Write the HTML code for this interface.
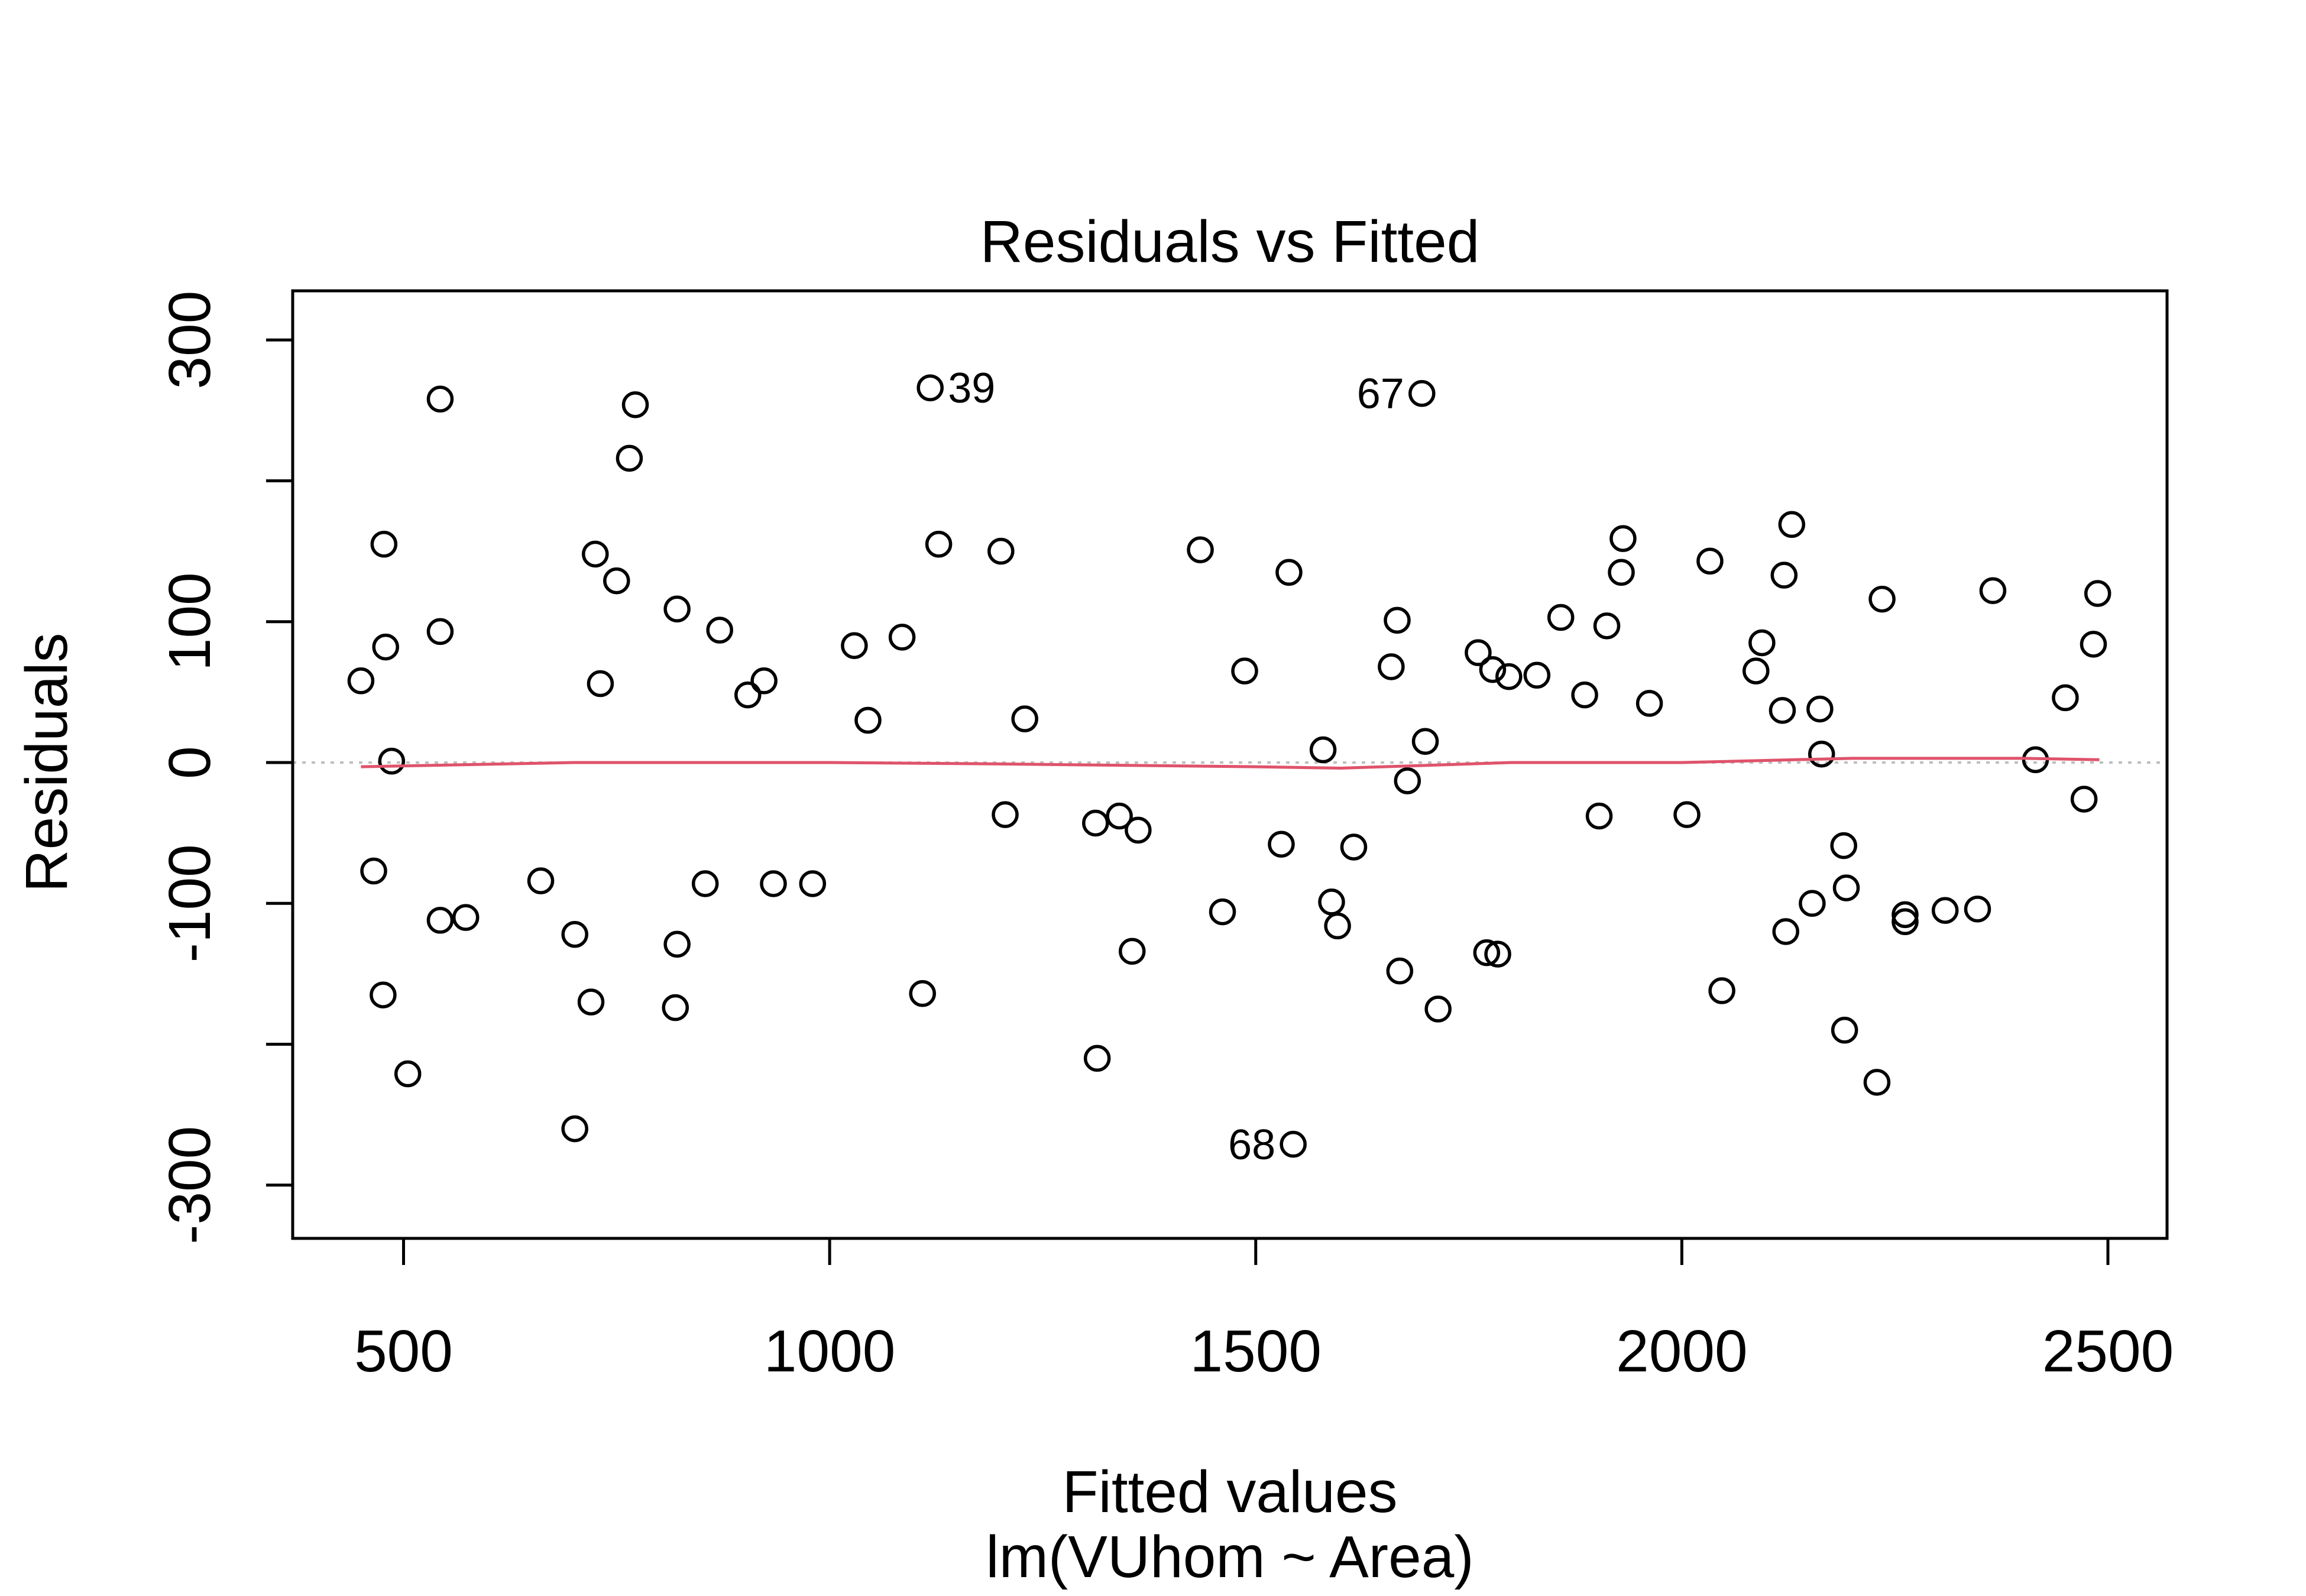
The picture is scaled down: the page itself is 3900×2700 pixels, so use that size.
<!DOCTYPE html>
<html><head><meta charset="utf-8"><style>
html,body{margin:0;padding:0;background:#fff;}
svg{display:block;font-family:"Liberation Sans",Arial,sans-serif;}
</style></head><body>
<svg id="chart" width="3900" height="2700" viewBox="0 0 3900 2700" xmlns="http://www.w3.org/2000/svg">
<rect width="3900" height="2700" fill="#fff"/>
<text x="2080" y="443" font-size="100" text-anchor="middle">Residuals vs Fitted</text>
<text x="2080" y="2558" font-size="100" text-anchor="middle">Fitted values</text>
<text x="2080" y="2668" font-size="100" text-anchor="middle">lm(VUhom ~ Area)</text>
<text transform="translate(113,1290) rotate(-90)" font-size="100" text-anchor="middle">Residuals</text>
<g id="marks"></g>
<rect x="495" y="492" width="3170" height="1603" fill="none" stroke="#000" stroke-width="5"/>
</svg>
<script>
const fitted=[450,465,476,477,479,486,505,543,543,543,573,661,701,701,720,725,731,750,765,772,819,821,821,854,871,904,923,934,980,1029,1045,1085,1109,1118,1128,1201,1206,1229,1312,1314,1340,1355,1362,1435,1461,1487,1530,1539,1544,1579,1589,1596,1615,1659,1666,1669,1678,1695,1699,1714,1761,1771,1778,1784,1797,1830,1858,1886,1903,1912,1929,1931,1962,2006,2033,2047,2087,2094,2118,2120,2122,2129,2153,2162,2164,2190,2191,2193,2229,2235,2262,2262,2309,2347,2365,2415,2450,2472,2483,2488];
const resid=[58,-77,-165,155,82,1,-221,258,93,-112,-110,-84,-122,-260,-170,148,56,129,216,254,-174,-129,109,-86,94,48,58,-86,-86,83,30,89,-164,266,155,150,-37,31,-43,-210,-38,-134,-48,151,-106,65,-58,135,-271,9,-99,-116,-60,68,101,-148,-13,262,15,-175,78,-135,66,-136,61,62,103,48,-38,97,135,159,42,-37,143,-162,65,85,37,133,-120,169,-100,38,6,-59,-190,-89,-227,116,-108,-113,-105,-104,122,2,46,-26,84,120];
const smoothX=[450,700,1000,1200,1500,1600,1800,2000,2200,2400,2490];
const smoothY=[-3,0,0,-1,-3,-4,0,0,3,3,2];
const xTicks=[500,1000,1500,2000,2500];
const yTicks=[-300,-200,-100,0,100,200,300];
const yTickLabels=["-300","","-100","0","100","","300"];
const idxLabels=[{i:33,t:"39",side:1},{i:57,t:"67",side:-1},{i:48,t:"68",side:-1}];

const NS="http://www.w3.org/2000/svg";
const X=v=>682.5+(v-500)*(3565-682.5)/2000;
const Y=v=>1290-v*2.383;
const g=document.getElementById('marks');
function mk(tag,attrs){const e=document.createElementNS(NS,tag);for(const k in attrs)e.setAttribute(k,attrs[k]);g.appendChild(e);return e;}

let zl=mk('line',{x1:495,x2:3665,y1:Y(0),y2:Y(0),stroke:'#bebebe','stroke-width':4,'stroke-dasharray':'6 10'});



let xa=mk('line',{x1:X(xTicks[0]),x2:X(xTicks[xTicks.length-1]),y1:2095,y2:2095,stroke:'#000','stroke-width':5});


xTicks.forEach(t=>{
  let l=mk('line',{x1:X(t),x2:X(t),y1:2095,y2:2140,stroke:'#000','stroke-width':5});
  
  
  let tx=mk('text',{x:X(t),y:2320,'font-size':100,'text-anchor':'middle'});
  tx.textContent=t;
  
  
});
let ya=mk('line',{x1:495,x2:495,y1:Y(yTicks[0]),y2:Y(yTicks[yTicks.length-1]),stroke:'#000','stroke-width':5});


yTicks.forEach((t,k)=>{
  let l=mk('line',{x1:450,x2:495,y1:Y(t),y2:Y(t),stroke:'#000','stroke-width':5});
  
  
  if(yTickLabels[k]){
    let tx=mk('text',{transform:`translate(355,${Y(t)}) rotate(-90)`,'font-size':100,'text-anchor':'middle'});
    tx.textContent=yTickLabels[k];
    
    
  }
});
fitted.forEach((f,i)=>{
  let c=mk('circle',{cx:X(f),cy:Y(resid[i]),r:20,fill:'none',stroke:'#000','stroke-width':5.5});
  
  
});
let p=smoothX.map((x,i)=>(i?'L':'M')+X(x)+' '+Y(smoothY[i])).join(' ');
let sm=mk('path',{d:p,fill:'none',stroke:'#DF536B','stroke-width':5});


idxLabels.forEach(o=>{
  const cx=X(fitted[o.i]),cy=Y(resid[o.i]);
  let tx=mk('text',{x:cx+o.side*30,y:cy+25,'font-size':72,'text-anchor':o.side>0?'start':'end'});
  tx.textContent=o.t;
  
  
});
</script>
</body></html>
